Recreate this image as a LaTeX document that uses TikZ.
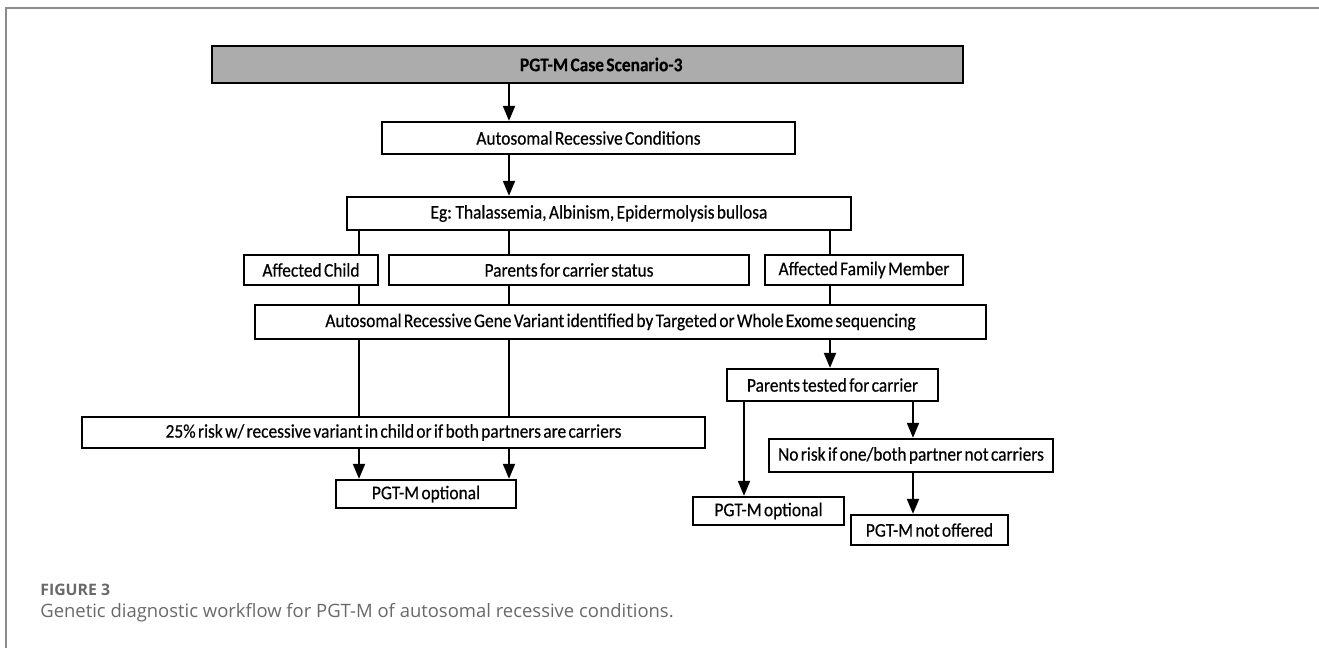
\documentclass[tikz,border=0pt]{standalone}
\usepackage{fontspec}
\setmainfont{Carlito}
\newfontfamily\boxfont[FakeStretch=0.9, WordSpace=0.6, FakeBold=0.4]{Carlito}
\newfontfamily\capfont{Open Sans}
\usetikzlibrary{arrows.meta}

\definecolor{headgray}{RGB}{172,172,172}
\definecolor{framegray}{RGB}{140,140,140}
\definecolor{capgray}{RGB}{105,105,105}

\tikzset{
  flowbox/.style={draw, line width=1.3pt, inner sep=0pt, font=\boxfont\fontsize{11}{13}\selectfont},
  flowline/.style={line width=1.1pt},
  flowarrow/.style={line width=1.1pt, -{Triangle[length=0.3cm, width=0.24cm]}}
}

\begin{document}
\begin{tikzpicture}[x=0.02cm, y=-0.02cm]
\useasboundingbox (0,0) rectangle (1319,648);
%Rahmen
\draw[framegray, line width=0.8pt] (6,648) -- (6,8) -- (1319,8);

%Spalten fuer die Verbindungen
\coordinate (colA) at (359,0);
\coordinate (colB) at (509,0);
\coordinate (colC) at (830,0);
\coordinate (colD) at (744,0);
\coordinate (colE) at (913,0);

%Kaesten
\node[flowbox, fill=headgray, minimum width=15.02cm, minimum height=0.74cm] (head) at (587.5,64.5) {\hspace*{0.55cm}\bfseries PGT-M Case Scenario-3};
\node[flowbox, minimum width=8.26cm, minimum height=0.64cm] (arc) at (588.5,138) {Autosomal Recessive Conditions};
\node[flowbox, minimum width=10.08cm, minimum height=0.66cm] (eg) at (599,213.5) {Eg: Thalassemia, Albinism, Epidermolysis bullosa};
\node[flowbox, minimum width=2.68cm, minimum height=0.6cm] (child) at (311,270) {Affected Child};
\node[flowbox, minimum width=7.2cm, minimum height=0.6cm] (parents) at (569,270) {Parents for carrier status};
\node[flowbox, minimum width=3.96cm, minimum height=0.6cm] (family) at (864,270) {Affected Family Member};
\node[flowbox, minimum width=14.62cm, minimum height=0.68cm] (gene) at (620.5,322) {Autosomal Recessive Gene Variant identified by Targeted or Whole Exome sequencing};
\node[flowbox, minimum width=12.46cm, minimum height=0.62cm] (risk) at (393.5,432.5) {25\% risk w/ recessive variant in child or if both partners are carriers};
\node[flowbox, minimum width=3.6cm, minimum height=0.56cm] (optL) at (426,494) {PGT-M optional};
\node[flowbox, minimum width=4.22cm, minimum height=0.64cm] (tested) at (832.5,385) {Parents tested for carrier};
\node[flowbox, minimum width=3.02cm, minimum height=0.56cm] (optR) at (768.5,511) {PGT-M optional};
\node[flowbox, minimum width=5.68cm, minimum height=0.66cm] (norisk) at (911,455.5) {No risk if one/both partner not carriers};
\node[flowbox, minimum width=3.14cm, minimum height=0.6cm] (notoff) at (929.5,530) {PGT-M not offered};

%Verbindungen
\draw[flowarrow] (head.south -| colB) -- (arc.north -| colB);
\draw[flowarrow] (arc.south -| colB) -- (eg.north -| colB);
\draw[flowline] (eg.south -| colA) -- (child.north -| colA);
\draw[flowline] (eg.south -| colB) -- (parents.north -| colB);
\draw[flowline] (eg.south -| colC) -- (family.north -| colC);
\draw[flowline] (child.south -| colA) -- (gene.north -| colA);
\draw[flowline] (parents.south -| colB) -- (gene.north -| colB);
\draw[flowline] (family.south -| colC) -- (gene.north -| colC);
\draw[flowline] (gene.south -| colA) -- (risk.north -| colA);
\draw[flowline] (gene.south -| colB) -- (risk.north -| colB);
\draw[flowarrow] (gene.south -| colC) -- (tested.north -| colC);
\draw[flowarrow] (risk.south -| colA) -- (optL.north -| colA);
\draw[flowarrow] (risk.south -| colB) -- (optL.north -| colB);
\draw[flowarrow] (tested.south -| colD) -- (optR.north -| colD);
\draw[flowarrow] (tested.south -| colE) -- (norisk.north -| colE);
\draw[flowarrow] (norisk.south -| colE) -- (notoff.north -| colE);

%Bildunterschrift
\node[anchor=west, inner sep=0pt, text=capgray, font=\capfont\bfseries\fontsize{9}{11}\selectfont] (figlabel) at (40,590) {FIGURE 3};
\node[anchor=west, inner sep=0pt, text=capgray, font=\capfont\fontsize{10.5}{12}\selectfont] (caption) at (40,613) {Genetic diagnostic workflow for PGT-M of autosomal recessive conditions.};
\end{tikzpicture}
\end{document}
